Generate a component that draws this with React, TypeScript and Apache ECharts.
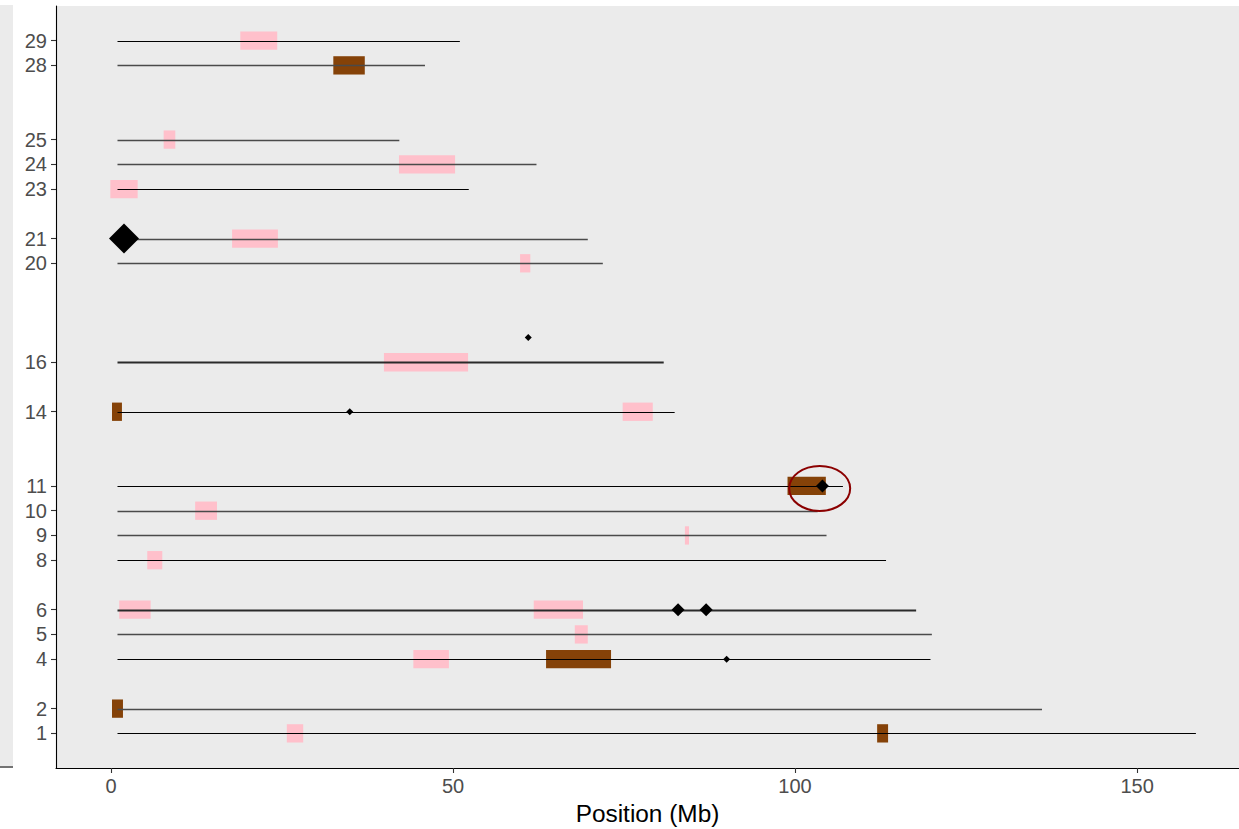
import React, { useEffect, useRef } from "react";
import * as echarts from "echarts";

const chroms = [1, 2, 4, 5, 6, 8, 9, 10, 11, 14, 16, 20, 21, 23, 24, 25, 28, 29];
const chromEnds = [158.6, 136.1, 119.8, 120.0, 117.7, 113.3, 104.6, 103.3, 107.0, 82.4, 80.8, 71.9, 69.7, 52.3, 62.2, 42.15, 45.9, 51.0];
const lineShade = ["black", "gray", "black", "gray", "dark", "black", "gray", "gray", "black", "black", "dark", "gray", "gray", "black", "gray", "gray", "gray", "black"];
const chromStart = 0.95;

// [chromosome, start Mb, end Mb]
const pinkRegions = [
  [29, 18.9, 24.3], [25, 7.7, 9.4], [24, 42.1, 50.3], [23, -0.1, 3.9], [21, 17.7, 24.4],
  [20, 59.8, 61.3], [16, 39.9, 52.2], [14, 74.8, 79.2], [10, 12.3, 15.5], [9, 83.9, 84.5],
  [8, 5.3, 7.5], [6, 1.2, 5.8], [6, 61.8, 69.0], [5, 67.8, 69.7], [4, 44.2, 49.4], [1, 25.7, 28.1],
];
const brownRegions = [
  [28, 32.5, 37.1], [14, 0.15, 1.6], [11, 98.9, 104.5], [4, 63.6, 73.1], [2, 0.15, 1.75], [1, 112.0, 113.6],
];
// [position Mb, chromosome, marker size]
const markers = [
  [1.9, 21, 30], [61.0, 17, 7], [34.9, 14, 7], [104.0, 11, 13], [82.9, 6, 13], [87.0, 6, 13], [90.0, 4, 7],
];
// [center Mb, center chromosome, radius Mb, radius chromosome units]
const highlight = [[103.6, 10.9, 4.46, 0.91]];

const xTicks = [0, 50, 100, 150];

const shadeStyle: Record<string, { stroke: string; lineWidth: number }> = {
  black: { stroke: "#000000", lineWidth: 1.2 },
  gray: { stroke: "#4a4a4a", lineWidth: 1.5 },
  dark: { stroke: "#2a2a2a", lineWidth: 1.8 },
};

const FONT = "'Liberation Sans', Arial, sans-serif";

export default function App() {
  const ref = useRef<HTMLDivElement>(null);
  useEffect(() => {
    if (!ref.current) return;
    const chart = echarts.init(ref.current, null, { renderer: "svg" });
    const rectItem = (color: string) => (params: any, api: any) => {
      const s = api.coord([api.value(1), api.value(0)]);
      const e = api.coord([api.value(2), api.value(0)]);
      const h = api.size([0, 0.74])[1];
      return {
        type: "rect",
        shape: { x: s[0], y: s[1] - h / 2, width: e[0] - s[0], height: h },
        style: { fill: color },
      };
    };
    const lineData = chroms.map((c, i) => [c, chromStart, chromEnds[i], i]);
    chart.setOption({
      animation: false,
      backgroundColor: "#ffffff",
      textStyle: { fontFamily: FONT },
      graphic: [
        { type: "rect", shape: { x: 0, y: 5, width: 13, height: 761 }, style: { fill: "#EBEBEB" } },
        { type: "line", shape: { x1: 0, y1: 767, x2: 13, y2: 767 }, style: { stroke: "#000", lineWidth: 1.1 } },
      ],
      grid: {
        left: 56, top: 6, right: 0, bottom: 61,
        outerBoundsMode: "none",
        containLabel: false,
        show: true, backgroundColor: "#EBEBEB", borderWidth: 0,
      },
      xAxis: {
        type: "value",
        min: -8.04,
        max: 164.9,
        splitLine: { show: false },
        axisLine: { onZero: false, lineStyle: { color: "#000", width: 1.1 } },
        axisTick: { customValues: xTicks, length: 5, lineStyle: { color: "#333", width: 1.1 } },
        axisLabel: { customValues: xTicks, color: "#4D4D4D", fontSize: 20, margin: 8, fontFamily: FONT },
        name: "Position (Mb)",
        nameLocation: "middle",
        nameGap: 33,
        nameTextStyle: { color: "#000", fontSize: 24.4, fontFamily: FONT },
      },
      yAxis: {
        type: "value",
        min: -0.4,
        max: 30.4,
        splitLine: { show: false },
        axisLine: { onZero: false, lineStyle: { color: "#000", width: 1.1 } },
        axisTick: { customValues: chroms, length: 5, lineStyle: { color: "#333", width: 1.1 } },
        axisLabel: { customValues: chroms, color: "#4D4D4D", fontSize: 20, margin: 9, fontFamily: FONT },
      },
      series: [
        {
          type: "custom",
          name: "pink",
          renderItem: rectItem("#FFC0CB"),
          encode: { x: [1, 2], y: 0 },
          data: pinkRegions,
          z: 1,
        },
        {
          type: "custom",
          name: "brown",
          renderItem: rectItem("#854208"),
          encode: { x: [1, 2], y: 0 },
          data: brownRegions,
          z: 2,
        },
        {
          type: "custom",
          name: "chromosomes",
          renderItem: (params: any, api: any) => {
            const s = api.coord([api.value(1), api.value(0)]);
            const e = api.coord([api.value(2), api.value(0)]);
            const st = shadeStyle[lineShade[api.value(3)]];
            const y = Math.round(s[1]) + 0.5;
            return {
              type: "line",
              shape: { x1: s[0], y1: y, x2: e[0], y2: y },
              style: { stroke: st.stroke, lineWidth: st.lineWidth },
            };
          },
          encode: { x: [1, 2], y: 0 },
          data: lineData,
          z: 3,
        },
        {
          type: "scatter",
          name: "markers",
          symbol: "diamond",
          symbolSize: (v: number[]) => v[2],
          itemStyle: { color: "#000", opacity: 1 },
          data: markers,
          z: 4,
        },
        {
          type: "custom",
          name: "highlight",
          renderItem: (params: any, api: any) => {
            const c = api.coord([api.value(0), api.value(1)]);
            const r = api.size([api.value(2), api.value(3)]);
            return {
              type: "ellipse",
              shape: { cx: c[0], cy: c[1], rx: r[0], ry: r[1] },
              style: { fill: "none", stroke: "#8B0000", lineWidth: 2 },
            };
          },
          encode: { x: 0, y: 1 },
          data: highlight,
          z: 5,
        },
      ],
    });
    return () => chart.dispose();
  }, []);
  return (
    <div
      ref={ref}
      style={{ position: "fixed", left: 0, top: 0, width: 1239, height: 829 }}
    />
  );
}
